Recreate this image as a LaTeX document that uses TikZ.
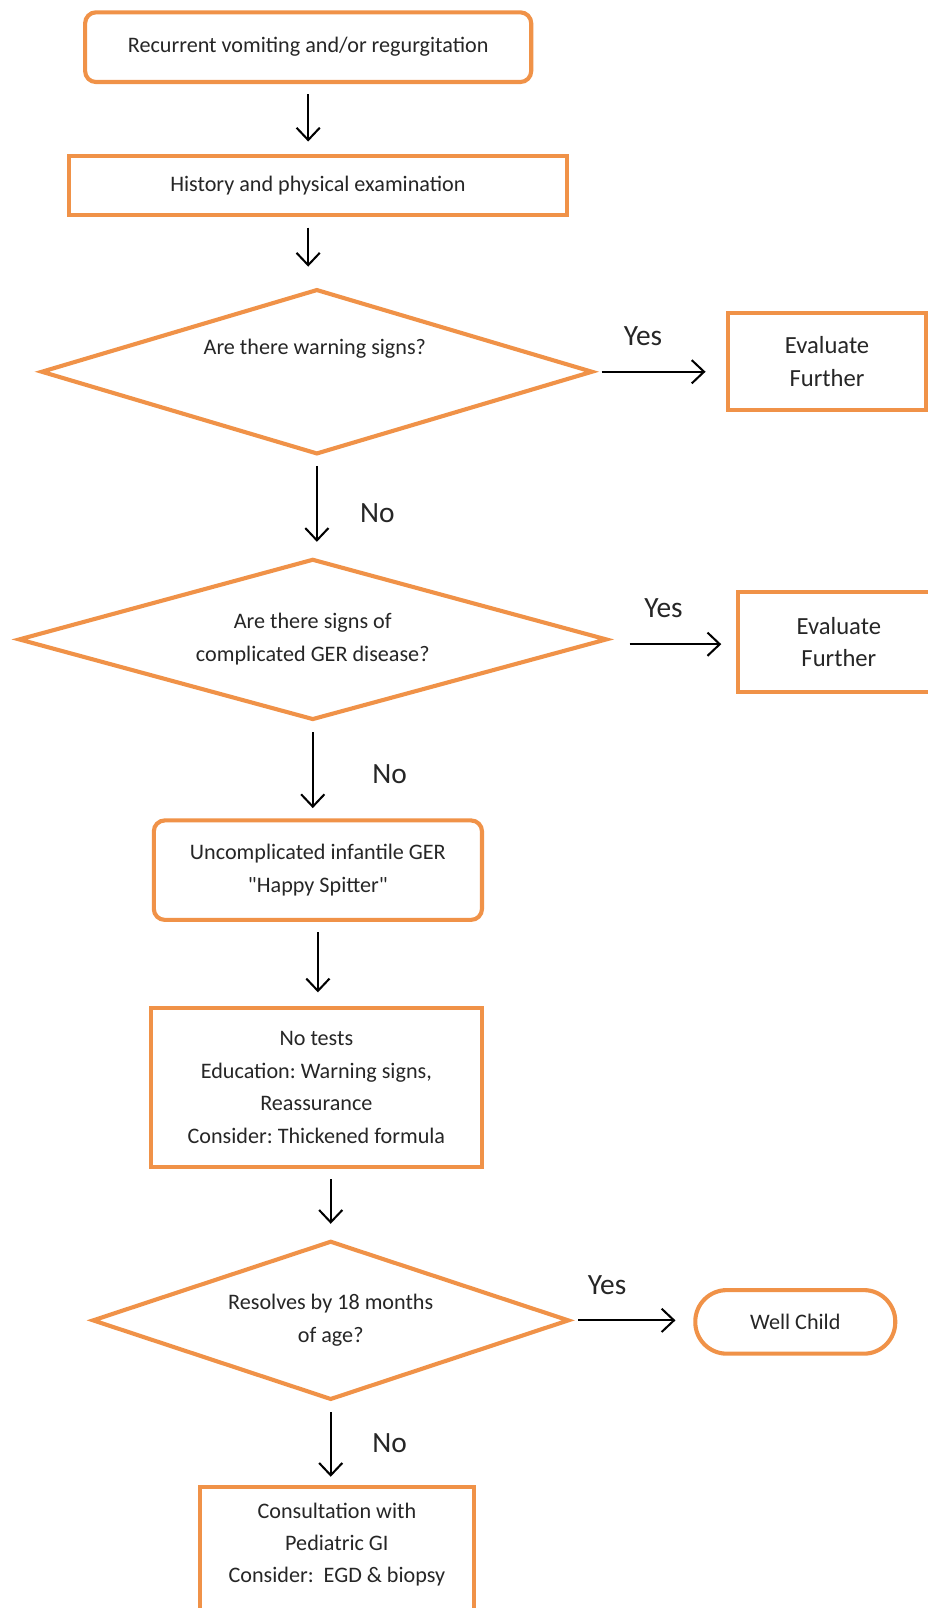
\documentclass[tikz,border=0pt]{standalone}
\usepackage{fontspec}
\setmainfont{Carlito}[Ligatures=TeXOff]
\usetikzlibrary{arrows.meta,shapes.geometric}
\definecolor{org}{RGB}{240,146,72}
\definecolor{txt}{RGB}{38,38,38}
\tikzset{
  box/.style={draw=org,line width=3pt,fill=white,inner sep=0pt,align=center,text=txt,font=\fontsize{16.2}{23.5}\selectfont},
  rbox/.style={box,rounded corners=8pt},
  dia/.style={diamond,draw=org,line width=3pt,inner sep=0pt,align=center,text=txt,font=\fontsize{16.2}{24}\selectfont},
  bigtxt/.style={text=txt,font=\fontsize{18}{24}\selectfont,align=center},
  lab/.style={text=txt,font=\fontsize{21.5}{24}\selectfont},
  plain/.style={text=txt,font=\fontsize{16.2}{23.5}\selectfont,align=center},
  arr/.style={draw=black,line width=1.5pt,-{Straight Barb[length=9pt,width=17pt,line width=1.5pt]}},
}
\begin{document}
\frenchspacing
\begin{tikzpicture}[x=0.75pt,y=-0.75pt]
\useasboundingbox (0,0) rectangle (904,1568);
\fill[white] (0,0) rectangle (904,1568);

\node[rbox,minimum width=435*0.75pt,minimum height=68*0.75pt] (b1) at (300.5,46) {Recurrent vomiting and/or regurgitation};
\node[box,minimum width=486*0.75pt,minimum height=58*0.75pt] (b2) at (310,181) {History and physical examination};

\node[dia,aspect=3.34,minimum width=538*0.75pt,minimum height=161*0.75pt] (d1) at (309,362.5) {};
\node[plain] (t1) at (307,340) {Are there warning signs?};
\node[box,bigtxt,minimum width=193*0.75pt,minimum height=95*0.75pt] (ef1) at (806.5,352.5) {Evaluate\\Further};

\node[dia,aspect=3.66,minimum width=574*0.75pt,minimum height=157*0.75pt] (d2) at (305,623.5) {Are there signs of\\complicated GER disease?};
\node[box,bigtxt,minimum width=196*0.75pt,minimum height=98*0.75pt,text width=190*0.75pt] (ef2) at (818,626) {Evaluate\\Further};

\node[rbox,minimum width=320*0.75pt,minimum height=97*0.75pt] (b3) at (310,848.5) {Uncomplicated infantile GER\\"Happy Spitter"};
\node[box,minimum width=323*0.75pt,minimum height=155*0.75pt,font=\fontsize{16.2}{24}\selectfont] (b4) at (308.5,1060.5) {No tests\\Education: Warning signs,\\Reassurance\\Consider: Thickened formula};

\node[dia,aspect=3,minimum width=465*0.75pt,minimum height=155*0.75pt] (d3) at (322.5,1287.5) {Resolves by 18 months\\of age?};
\node[box,rounded corners=23pt,minimum width=195*0.75pt,minimum height=62*0.75pt] (wc) at (775.5,1289) {Well Child};

\node[box,anchor=north,minimum width=267*0.75pt,minimum height=170*0.75pt] (b5) at (328.5,1448) {};
\node[plain] (t5) at (328.5,1506) {Consultation with\\Pediatric GI\\Consider:\ \ EGD \& biopsy};

\draw[arr,shorten <=7.5pt,shorten >=9pt] (b1.south) -- (b1.south |- b2.north);
\draw[arr,shorten <=7.5pt,shorten >=15pt] (b1.south |- b2.south) -- (b1.south |- d1.north);
\draw[arr,shorten <=7pt,shorten >=11pt] (d1.south) -- (d1.south |- d2.north);
\draw[arr,shorten <=5pt,shorten >=15pt] (d1.east) -- (d1.east -| ef1.west);
\draw[arr,shorten <=7.5pt,shorten >=7.5pt] (d2.south) -- (d2.south |- b3.north);
\draw[arr,shorten <=15pt,shorten >=11pt] ([yshift=-3.5pt]d2.east) -- ([yshift=-3.5pt]d2.east -| ef2.west);
\draw[arr,shorten <=7.5pt,shorten >=10pt] (b3.south) -- (b3.south |- b4.north);
\draw[arr,shorten <=7.5pt,shorten >=11pt] (d3.north |- b4.south) -- (d3.north);
\draw[arr,shorten <=5pt,shorten >=13pt] (d3.east) -- (d3.east -| wc.west);
\draw[arr,shorten <=7.5pt,shorten >=6pt] (d3.south) -- (d3.south |- b5.north);

\node[lab] (y1) at (627,328) {Yes};
\node[lab] (n1) at (368,500) {No};
\node[lab] (y2) at (647,593) {Yes};
\node[lab] (n2) at (380,755) {No};
\node[lab] (y3) at (592,1253) {Yes};
\node[lab] (n3) at (380,1407) {No};
\end{tikzpicture}
\end{document}
